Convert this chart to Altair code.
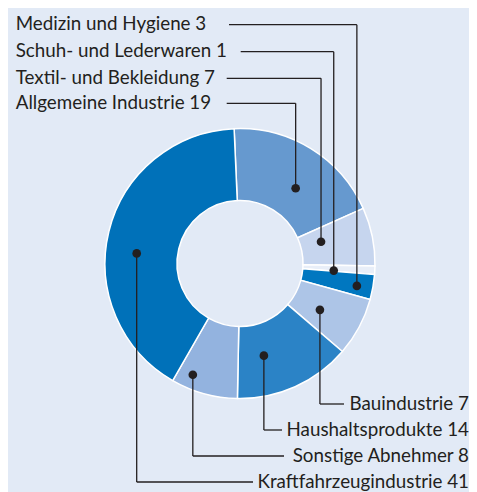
import math
import altair as alt
import pandas as pd

# ---- data ----
categories = ["Allgemeine Industrie", "Textil- und Bekleidung", "Schuh- und Lederwaren",
              "Medizin und Hygiene", "Bauindustrie", "Haushaltsprodukte",
              "Sonstige Abnehmer", "Kraftfahrzeugindustrie"]
values = [19, 7, 1, 3, 7, 14, 8, 41]
colors = ["#6699cf", "#c6d5ee", "#e8eef8", "#0077c0", "#adc5e7", "#2b83c6", "#93b3df", "#0071b9"]

# ---- layout (pixels) ----
OFF = 8
W, H = 461, 484
CX, CY = 240 - OFF, 263.5 - OFF
R_OUT, R_IN = 135, 63
T0 = math.radians(-2.5)
dot_r = [93.6, 83.9, 94.0, 119.0, 92.4, 95.2, 120.8, 103.8]
dot_frac = [0.57, 0.36, 0.9, 0.57, 0.58, 0.69, 0.76, 0.445]
label_side = ["top"] * 4 + ["bottom"] * 4
label_y = [v - OFF for v in [103.3, 78.3, 51.7, 24.7, 404, 430, 456, 482]]
line_end = [v - OFF for v in [226.7, 226.7, 240.7, 229, 344, 282, 284, 253]]
TOP_X = 15.7 - OFF
BOT_X = W
FONT = "Lato"
FS = 18.8
INK = "#231f20"

df = pd.DataFrame({
    "cat": categories,
    "value": values,
    "order": list(range(len(categories))),
    "r": dot_r,
    "frac": dot_frac,
    "side": label_side,
    "ly": label_y,
    "lend": line_end,
})
df["label"] = [f"{c} {v}" for c, v in zip(categories, values)]

xs = alt.Scale(domain=[0, W], range=[0, W], nice=False, zero=False)
ys = alt.Scale(domain=[0, H], range=[0, H], nice=False, zero=False)

base = alt.Chart(df)

arcs = base.mark_arc(
    innerRadius=R_IN, outerRadius=R_OUT, stroke="white", strokeWidth=1.5, x=CX, y=CY
).encode(
    theta=alt.Theta("value:Q", stack=True,
                    scale=alt.Scale(range=[2 * math.pi + T0, 4 * math.pi + T0])),
    color=alt.Color("cat:N", scale=alt.Scale(domain=categories, range=colors), legend=None),
    order=alt.Order("order:Q"),
)

pos = base.transform_window(
    cum="sum(value)", sort=[alt.SortField("order")], frame=[None, 0]
).transform_joinaggregate(
    total="sum(value)"
).transform_calculate(
    ang=f"{T0} + 2*PI*(datum.cum - datum.value*(1-datum.frac))/datum.total",
).transform_calculate(
    px=f"{CX} + datum.r*sin(datum.ang)",
    py=f"{CY} - datum.r*cos(datum.ang)",
)

vert = pos.mark_rule(color=INK, strokeWidth=1.3).encode(
    x=alt.X("px:Q", scale=xs, axis=None),
    y=alt.Y("py:Q", scale=ys, axis=None),
    y2="ly:Q",
)
horiz = pos.mark_rule(color=INK, strokeWidth=1.3).encode(
    x=alt.X("px:Q", scale=xs, axis=None),
    x2="lend:Q",
    y=alt.Y("ly:Q", scale=ys, axis=None),
)
dots = pos.mark_circle(size=75, color=INK, opacity=1).encode(
    x=alt.X("px:Q", scale=xs, axis=None),
    y=alt.Y("py:Q", scale=ys, axis=None),
)

top_text = base.transform_filter(alt.datum.side == "top").mark_text(
    align="left", baseline="alphabetic", dy=5.5, font=FONT, fontSize=FS, color=INK
).encode(
    x=alt.value(TOP_X),
    y=alt.Y("ly:Q", scale=ys, axis=None),
    text="label:N",
)
bot_text = base.transform_filter(alt.datum.side == "bottom").mark_text(
    align="right", baseline="alphabetic", dy=5.5, font=FONT, fontSize=FS, color=INK
).encode(
    x=alt.value(BOT_X),
    y=alt.Y("ly:Q", scale=ys, axis=None),
    text="label:N",
)

chart = alt.layer(arcs, vert, horiz, dots, top_text, bot_text).properties(
    width=W, height=H, padding=0, autosize=alt.AutoSizeParams(type="none"),
    background="#e2eaf6",
).configure_view(stroke=None)

chart.save("out.html", embed_options={"renderer": "svg", "actions": False})
